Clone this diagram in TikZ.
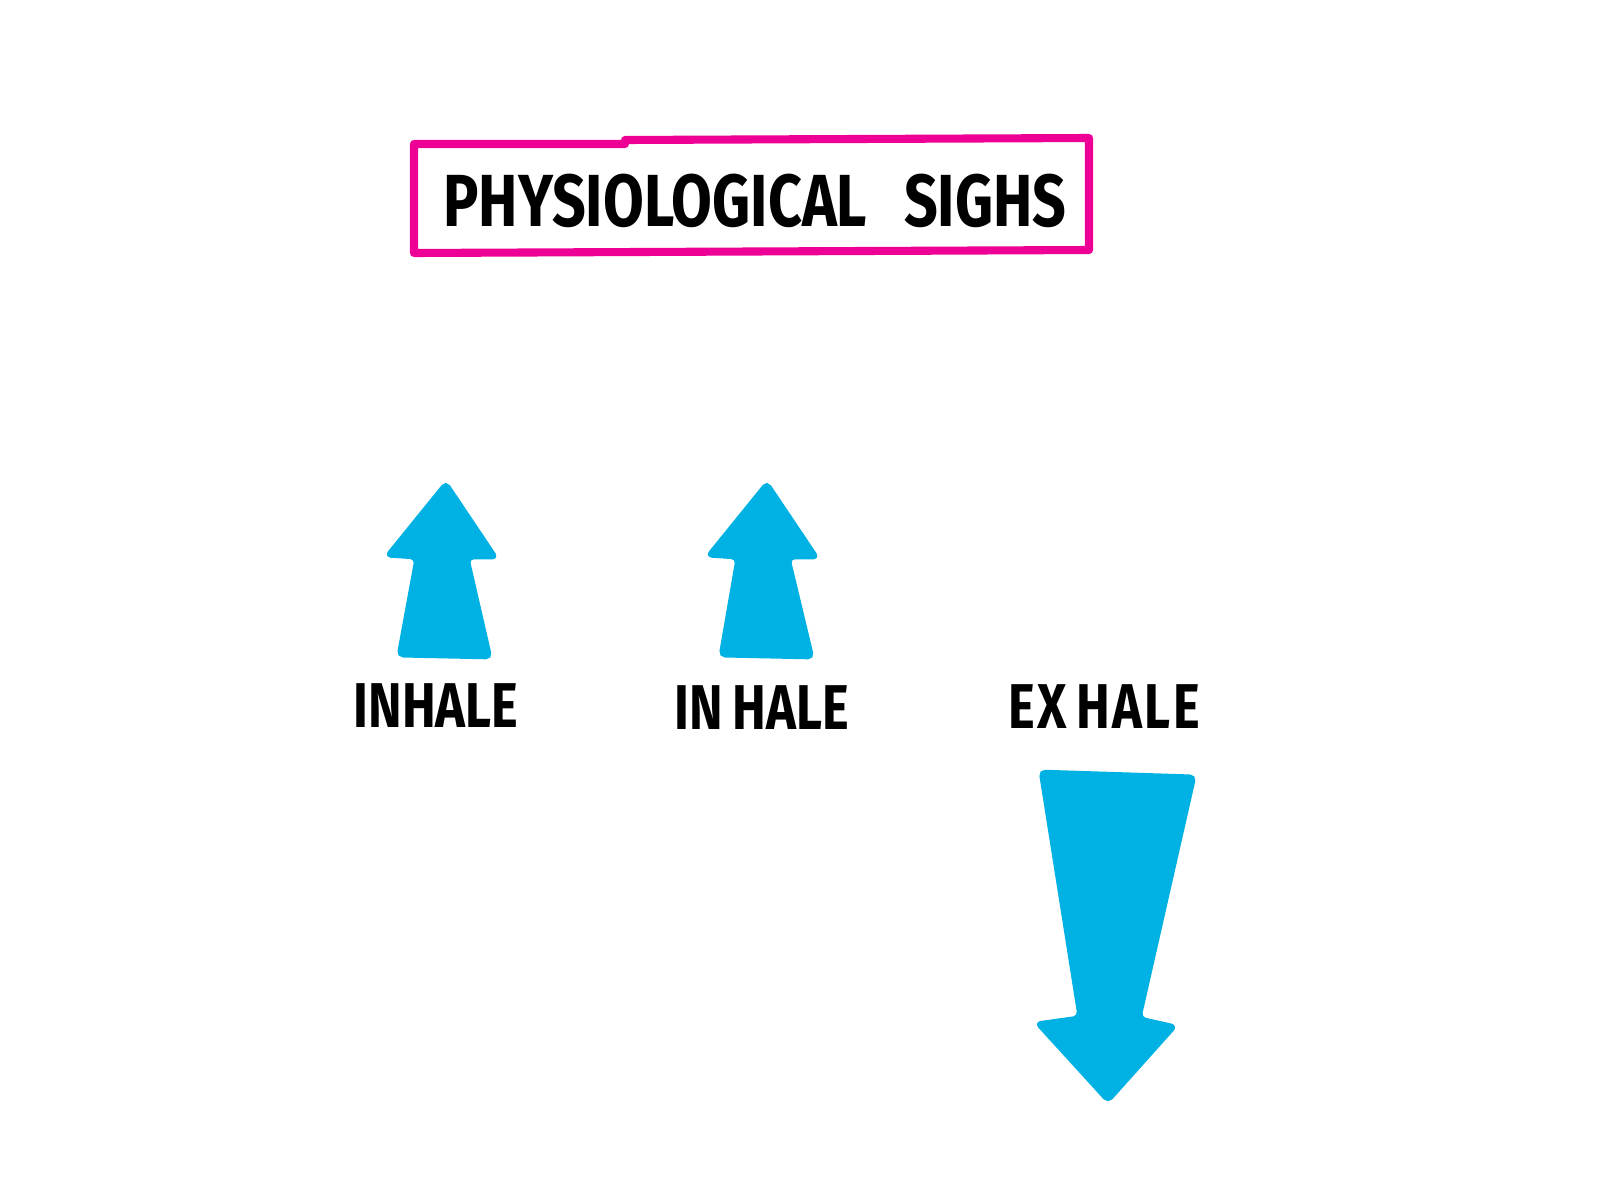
\documentclass[tikz,border=0pt]{standalone}
\usepackage{fontspec}
\newfontfamily\mainfeutre[FakeStretch=0.8]{Fira Sans}
\usepackage{tikz}
\usetikzlibrary{positioning}
\definecolor{rosevif}{RGB}{238,0,150}
\definecolor{bleuciel}{RGB}{0,178,227}

\tikzset{
  fleche/.style={fill=bleuciel, draw=bleuciel, line width=0.8pt, rounded corners=1.5pt},
  titre/.style={font=\mainfeutre\bfseries\fontsize{21}{21}\selectfont, inner sep=0pt},
  etiquette/.style={font=\mainfeutre\bfseries\fontsize{18}{18}\selectfont, inner sep=0pt}
}

\begin{document}
\begin{tikzpicture}[x=0.01cm, y=-0.01cm]
  \fill[white] (0,0) rectangle (1600,1200);
  \useasboundingbox (0,0) rectangle (1600,1200);

  % Titre encadré
  \draw[rosevif, line width=2.3pt, line join=round]
    (414,144) -- (625,144) -- (625,140) -- (1089,138) -- (1089,250) -- (414,253) -- cycle;
  \node[titre] (titre) at (755,201) {PHYSIOLOGICAL\hspace{0.5em}SIGHS};

  % Flèches
  \filldraw[fleche] (446,482) -- (497,558) -- (468,558) -- (491,658) -- (398,656) -- (416,558) -- (386,556) -- cycle;
  \filldraw[fleche] (767,482) -- (818,558) -- (789,558) -- (813,658) -- (720,656) -- (737,558) -- (707,556) -- cycle;
  \filldraw[fleche] (1040,771) -- (1195,776) -- (1140,1018) -- (1176,1026) -- (1108,1102) -- (1036,1023) -- (1079,1017) -- cycle;

  % Etiquettes
  \node[etiquette] (inspA) at (436,706) {INHALE};
  \node[etiquette] (inspB) at (762,708) {IN\hspace{0.15em}HALE};
  \node[etiquette, font=\mainfeutre\bfseries\fontsize{18}{18}\selectfont\addfontfeature{LetterSpace=4}] (expi) at (1104,707) {EX\hspace{0.15em}HALE};
\end{tikzpicture}
\end{document}
